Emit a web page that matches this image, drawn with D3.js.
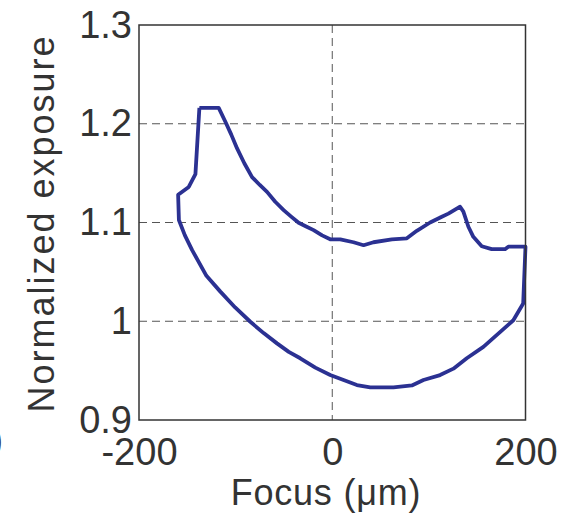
<!DOCTYPE html>
<html>
<head>
<meta charset="utf-8">
<script src="https://cdn.jsdelivr.net/npm/d3@7"></script>
<style>
  html, body { margin: 0; padding: 0; background: #fff; }
  svg { display: block; }
  text { font-family: Arial, "Liberation Sans", Helvetica, sans-serif; fill: #333; }
</style>
</head>
<body>
<svg id="chart" width="575" height="521"></svg>
<script>
// Exposure loop: traced around the closed curve (upper branch left→right, then lower branch right→left)
const focus = [
  -137.5, -117.5, -110.6, -104.5, -98.5, -91.0, -83.0, -75.0, -67.5, -59.0, -50.3, -42.5, -34.8, -27.0, -19.3, -10.5, -2.1,
  8.3, 22.0, 32.4, 42.7, 61.7, 77.2, 87.5, 101.3, 113.4, 120.2,
  132.3, 135.7, 140.9, 146.0, 154.7, 165.0, 178.8, 182.2, 200.0,
  197.6, 187.4, 173.6, 156.4, 139.2, 125.4, 111.6, 94.4, 82.4, 63.4,
  39.3, 25.5, 11.7, -2.1, -17.5, -33.1, -45.0, -57.2, -71.0, -84.8, -100.5, -115.8, -130.2, -145.0,
  -152.5, -158.7, -159.5, -148.5, -141.6, -137.5
];
const exposure = [
  1.216, 1.216, 1.202, 1.189, 1.175, 1.160, 1.146, 1.138, 1.131, 1.121, 1.1125, 1.106, 1.0997, 1.096, 1.0923, 1.087, 1.083,
  1.083, 1.080, 1.077, 1.080, 1.083, 1.084, 1.0916, 1.100, 1.1058, 1.109,
  1.116, 1.111, 1.0957, 1.0855, 1.076, 1.073, 1.073, 1.0755, 1.0755,
  1.018, 1.001, 0.989, 0.974, 0.9625, 0.952, 0.9455, 0.9405, 0.935, 0.933,
  0.933, 0.9354, 0.9405, 0.9455, 0.953, 0.9625, 0.969, 0.9776, 0.988, 0.9995, 1.014, 1.030, 1.046, 1.072,
  1.087, 1.1025, 1.128, 1.136, 1.149, 1.216
];

const xTicks = [-200, 0, 200];
const xTickLabels = ["-200", "0", "200"];
const yTicks = [0.9, 1.0, 1.1, 1.2, 1.3];
const yTickLabels = ["0.9", "1", "1.1", "1.2", "1.3"];
const xGrid = [0];
const yGrid = [1.0, 1.1, 1.2];

const svg = d3.select("#chart");
const plotL = 139, plotR = 525.5, plotT = 25, plotB = 420;

const x = d3.scaleLinear().domain([-200, 200]).range([plotL, plotR]);
const y = d3.scaleLinear().domain([0.9, 1.3]).range([plotB, plotT]);

// dashed grid
const grid = svg.append("g")
  .attr("stroke", "#555").attr("stroke-width", 1).attr("stroke-dasharray", "8,5");
grid.selectAll("line.h").data(yGrid).join("line").attr("class", "h")
  .attr("x1", plotL).attr("x2", plotR).attr("y1", d => y(d)).attr("y2", d => y(d));
grid.selectAll("line.v").data(xGrid).join("line").attr("class", "v")
  .attr("y1", plotT).attr("y2", plotB).attr("x1", d => x(d)).attr("x2", d => x(d));

// curve
const pts = focus.map((f, i) => [f, exposure[i]]);
svg.append("path")
  .datum(pts)
  .attr("fill", "none")
  .attr("stroke", "#2b3192")
  .attr("stroke-width", 3.8)
  .attr("stroke-linejoin", "round")
  .attr("d", d3.line().x(d => x(d[0])).y(d => y(d[1])));

// frame
svg.append("rect")
  .attr("x", plotL).attr("y", plotT)
  .attr("width", plotR - plotL).attr("height", plotB - plotT)
  .attr("fill", "none").attr("stroke", "#333").attr("stroke-width", 1.5);

// axes
const yAxis = svg.append("g")
  .attr("transform", `translate(${plotL},0)`)
  .call(d3.axisLeft(y).tickValues(yTicks).tickSize(0).tickPadding(7)
    .tickFormat((d, i) => yTickLabels[i]));
yAxis.select(".domain").remove();
yAxis.selectAll("text").attr("font-size", 38).attr("dy", "0.32em")
  .attr("font-family", "Arial, 'Liberation Sans', sans-serif").attr("fill", "#333");

const xAxis = svg.append("g")
  .attr("transform", `translate(0,${plotB})`)
  .call(d3.axisBottom(x).tickValues(xTicks).tickSize(0)
    .tickFormat((d, i) => xTickLabels[i]));
xAxis.select(".domain").remove();
xAxis.selectAll("text").attr("font-size", 38).attr("y", 45).attr("dy", 0)
  .attr("font-family", "Arial, 'Liberation Sans', sans-serif").attr("fill", "#333");

// axis titles
svg.append("text")
  .attr("transform", `translate(54,${(plotT + plotB) / 2 + 1}) rotate(-90)`)
  .attr("text-anchor", "middle")
  .attr("font-size", 36)
  .attr("letter-spacing", 2)
  .text("Normalized exposure");

svg.append("text")
  .attr("x", 326).attr("y", 505)
  .attr("text-anchor", "middle")
  .attr("font-size", 36)
  .attr("letter-spacing", 0.8)
  .text("Focus (\u03bcm)");

// panel label fragment at the left edge
svg.append("text")
  .attr("x", -9).attr("y", 452)
  .attr("font-size", 36)
  .text(")");
</script>
</body>
</html>
